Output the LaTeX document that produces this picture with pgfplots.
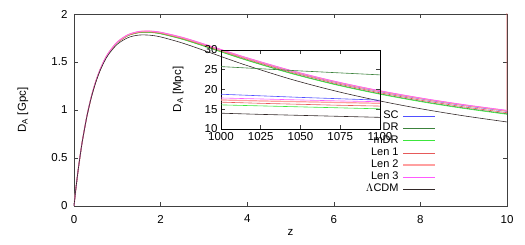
\documentclass[border=0pt]{standalone}
\usepackage{fontspec}
\setmainfont{Liberation Sans}
\usepackage{pgfplots}
\pgfplotsset{compat=1.18}
\definecolor{cSC}{RGB}{80,80,255}
\definecolor{cDR}{RGB}{60,130,60}
\definecolor{cmDR}{RGB}{60,230,60}
\definecolor{cLenA}{RGB}{230,90,90}
\definecolor{cLenB}{RGB}{255,160,160}
\definecolor{cLenC}{RGB}{255,90,255}
\definecolor{cLCDM}{RGB}{50,40,40}
\pgfplotsset{
  gpstyle/.style={
    scale only axis,
    tick align=inside,
    major tick length=4pt,
    axis line style={black!75, line width=0.6pt},
    every tick/.style={black!75, line width=0.6pt},
    tick label style={font=\fontsize{11.5}{12}\selectfont},
    label style={font=\fontsize{11.5}{12}\selectfont},
    /pgf/number format/assume math mode=true,
    /pgf/number format/1000 sep={},
    scaled ticks=false,
  }
}
\begin{document}
\begin{tikzpicture}
\useasboundingbox (-74pt,-39pt) rectangle (451pt,206pt);
\begin{axis}[gpstyle,
  at={(0pt,0pt)}, anchor=south west,
  width=433pt, height=192pt,
  xmin=0, xmax=10, ymin=0, ymax=2,
  xtick={0,2,4,6,8,10}, ytick={0,0.5,1,1.5,2},
  xticklabel style={yshift=-5.5pt},
  yticklabel style={xshift=-3pt},
  xlabel={z}, ylabel={D\textsubscript{A} [Gpc]},
  xlabel style={at={(axis description cs:0.5,-0.14)}, anchor=center},
  ylabel style={at={(axis description cs:-0.118,0.5)}, anchor=center},
  legend style={draw=none, fill=none, at={(axis description cs:0.836,0.5)}, anchor=north east,
    font=\fontsize{11}{12}\selectfont, inner sep=0pt, row sep=0pt, column sep=3pt,
    nodes={inner xsep=1pt, inner ysep=0pt, text height=8.5pt, text depth=3.7pt}},
  legend cell align=right,
  legend plot pos=right,
  legend image code/.code={\draw[#1] (0pt,0pt) -- (32pt,0pt);},
]
\addplot[cSC, line width=0.6pt, smooth] coordinates {
(0,0) (0.025,0.1058) (0.05,0.2064) (0.1,0.3881) (0.15,0.5506) (0.2,0.6959) (0.3,0.9408) (0.4,1.1361)
(0.5,1.2924) (0.6,1.4173) (0.7,1.5167) (0.8,1.5956) (1.0,1.7061) (1.25,1.7821) (1.5,1.8140) (1.75,1.8184)
(2,1.8055) (2.5,1.7517) (3,1.6820) (3.5,1.6083) (4,1.5365) (5,1.4051) (6,1.2925) (7,1.1971) (8,1.1158)
(9,1.0459) (10,0.9857)};
\addlegendentry{SC}
\addplot[cDR, line width=0.6pt, smooth] coordinates {
(0,0) (0.025,0.1058) (0.05,0.2064) (0.1,0.3880) (0.15,0.5504) (0.2,0.6955) (0.3,0.9399) (0.4,1.1348)
(0.5,1.2905) (0.6,1.4148) (0.7,1.5137) (0.8,1.5920) (1.0,1.7012) (1.25,1.7757) (1.5,1.8063) (1.75,1.8094)
(2,1.7953) (2.5,1.7394) (3,1.6679) (3.5,1.5927) (4,1.5196) (5,1.3859) (6,1.2716) (7,1.1748) (8,1.0923)
(9,1.0214) (10,0.9603)};
\addlegendentry{DR}
\addplot[cmDR, line width=0.6pt, smooth] coordinates {
(0,0) (0.025,0.1058) (0.05,0.2064) (0.1,0.3880) (0.15,0.5503) (0.2,0.6955) (0.3,0.9397) (0.4,1.1345)
(0.5,1.2901) (0.6,1.4143) (0.7,1.5131) (0.8,1.5912) (1.0,1.7002) (1.25,1.7745) (1.5,1.8047) (1.75,1.8075)
(2,1.7932) (2.5,1.7368) (3,1.6649) (3.5,1.5895) (4,1.5160) (5,1.3819) (6,1.2673) (7,1.1702) (8,1.0874)
(9,1.0163) (10,0.9551)};
\addlegendentry{mDR}
\addplot[cLenA, line width=0.6pt] coordinates {
(0,0) (0.025,0.1058) (0.05,0.2064) (0.1,0.3880) (0.15,0.5505) (0.2,0.6957) (0.3,0.9403) (0.4,1.1354)
(0.5,1.2914) (0.6,1.4159) (0.7,1.5151) (0.8,1.5936) (1.0,1.7034) (1.25,1.7786) (1.5,1.8098) (1.75,1.8134)
(2,1.7998) (2.5,1.7449) (3,1.6742) (3.5,1.5997) (4,1.5272) (5,1.3945) (6,1.2810) (7,1.1848) (8,1.1028)
(9,1.0324) (10,0.9717) (10,2.5)};
\addlegendentry{Len 1}
\addplot[cLenB, line width=1.2pt, smooth] coordinates {
(0,0) (0.025,0.1058) (0.05,0.2064) (0.1,0.3881) (0.15,0.5507) (0.2,0.6960) (0.3,0.9409) (0.4,1.1364)
(0.5,1.2928) (0.6,1.4178) (0.7,1.5175) (0.8,1.5965) (1.0,1.7073) (1.25,1.7836) (1.5,1.8160) (1.75,1.8207)
(2,1.8079) (2.5,1.7547) (3,1.6854) (3.5,1.6121) (4,1.5406) (5,1.4097) (6,1.2976) (7,1.2025) (8,1.1214)
(9,1.0518) (10,0.9918)};
\addlegendentry{Len 2}
\addplot[cLenC, line width=0.6pt, smooth] coordinates {
(0,0) (0.025,0.1058) (0.05,0.2064) (0.1,0.3881) (0.15,0.5508) (0.2,0.6961) (0.3,0.9411) (0.4,1.1367)
(0.5,1.2933) (0.6,1.4183) (0.7,1.5181) (0.8,1.5972) (1.0,1.7083) (1.25,1.7850) (1.5,1.8176) (1.75,1.8224)
(2,1.8101) (2.5,1.7573) (3,1.6883) (3.5,1.6154) (4,1.5441) (5,1.4137) (6,1.3019) (7,1.2071) (8,1.1263)
(9,1.0569) (10,0.9971)};
\addlegendentry{Len 3}
\addplot[cLCDM, line width=0.6pt, smooth] coordinates {
(0,0) (0.025,0.1058) (0.05,0.2063) (0.1,0.3876) (0.15,0.5496) (0.2,0.6942) (0.3,0.9372) (0.4,1.1304)
(0.5,1.2843) (0.6,1.4066) (0.7,1.5035) (0.8,1.5797) (1.0,1.6849) (1.25,1.7545) (1.5,1.7804) (1.75,1.7792)
(2,1.7611) (2.5,1.6982) (3,1.6207) (3.5,1.5404) (4,1.4628) (5,1.3218) (6,1.2017) (7,1.1001) (8,1.0136)
(9,0.9394) (10,0.8754)};
\addlegendentry{$\Lambda$CDM}
\end{axis}
\begin{axis}[gpstyle,
  at={(147pt,77pt)}, anchor=south west,
  width=159pt, height=79pt,
  axis line style={black, line width=0.8pt},
  xmin=1000, xmax=1100, ymin=10, ymax=30,
  xtick={1000,1025,1050,1075,1100}, ytick={10,15,20,25,30},
  ylabel={D\textsubscript{A} [Mpc]},
  ylabel style={at={(axis description cs:-0.27,0.5)}, anchor=center},
]
\addplot[cSC, line width=0.6pt] coordinates {(1000,18.8) (1025,18.4) (1050,18.0) (1075,17.65) (1100,17.3)};
\addplot[cDR, line width=0.6pt] coordinates {(1000,25.8) (1025,25.25) (1050,24.7) (1075,24.2) (1100,23.7)};
\addplot[cmDR, line width=0.6pt] coordinates {(1000,16.1) (1025,15.85) (1050,15.6) (1075,15.35) (1100,15.1)};
\addplot[cLenA, line width=0.6pt] coordinates {(1000,16.8) (1025,16.5) (1050,16.25) (1075,16.0) (1100,15.8)};
\addplot[cLenB, line width=1.2pt] coordinates {(1000,17.35) (1025,17.1) (1050,16.9) (1075,16.7) (1100,16.5)};
\addplot[cLenC, line width=0.6pt] coordinates {(1000,17.85) (1025,17.6) (1050,17.35) (1075,17.1) (1100,16.9)};
\addplot[cLCDM, line width=0.6pt] coordinates {(1000,14.0) (1025,13.7) (1050,13.45) (1075,13.2) (1100,12.95)};
\end{axis}
\end{tikzpicture}
\end{document}
